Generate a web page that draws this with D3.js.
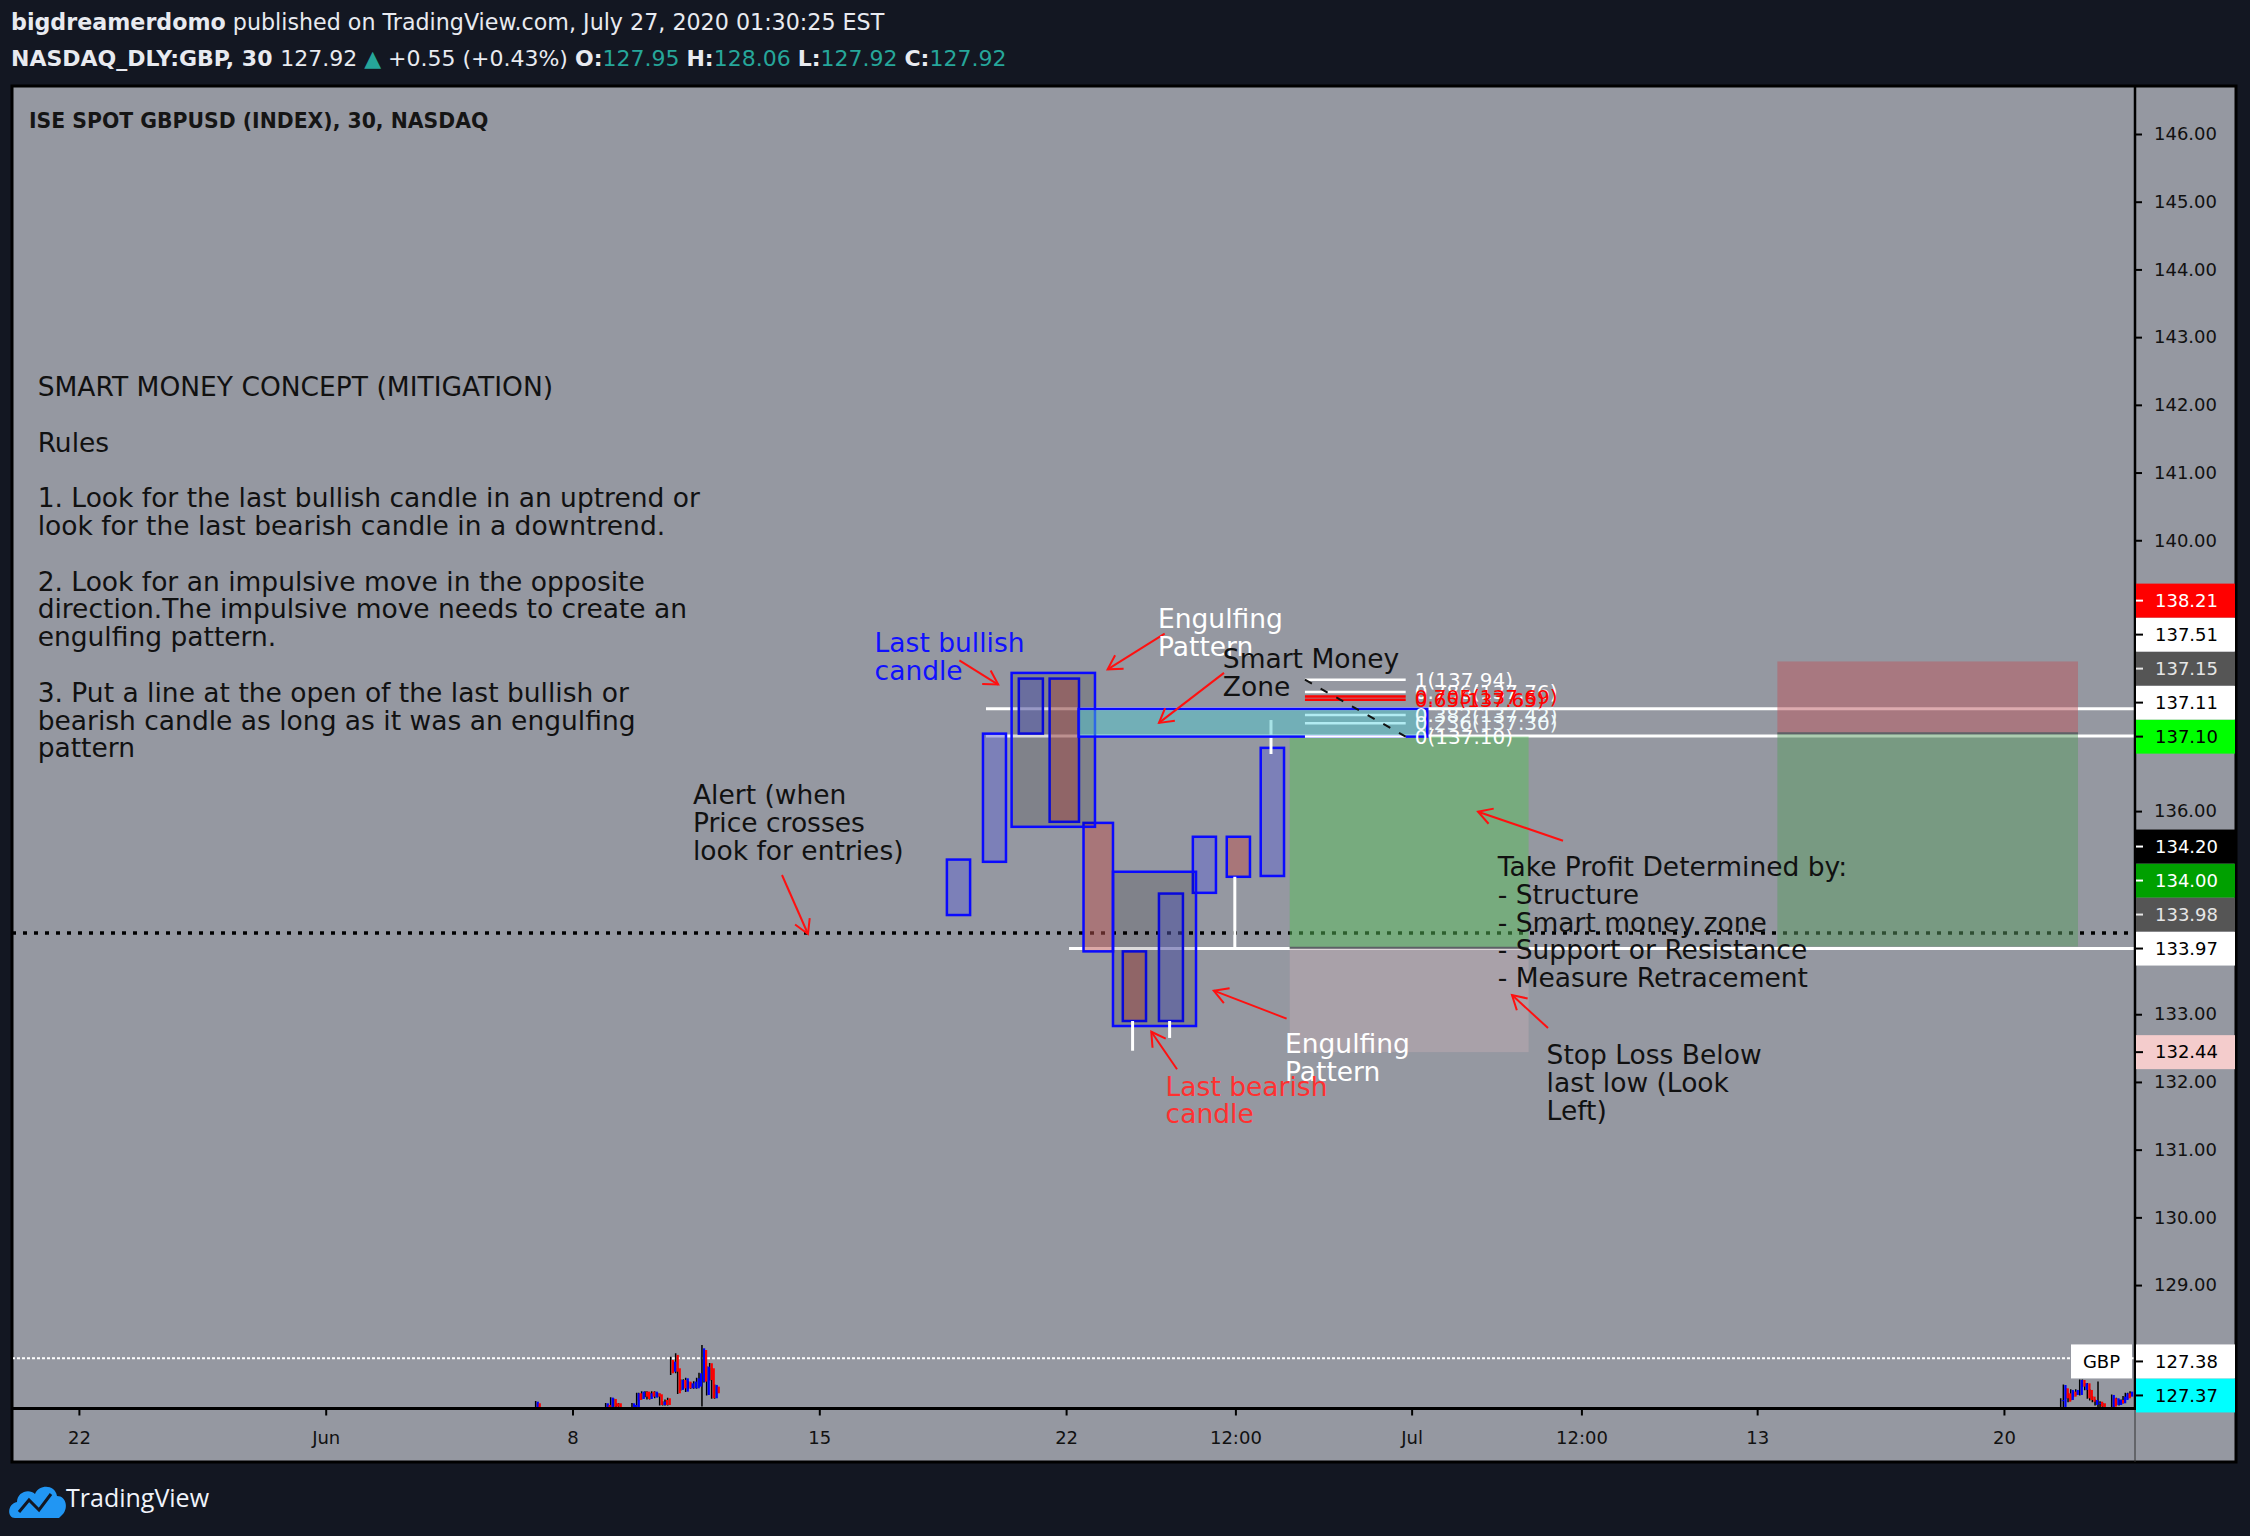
<!DOCTYPE html>
<html>
<head>
<meta charset="utf-8">
<script src="https://cdn.jsdelivr.net/npm/d3@7"></script>
<style>
  body { margin: 0; background: #131722; }
  svg { display: block; }
</style>
</head>
<body>
<script>
// ---------- data ----------
// time axis is in trading days counted from 22 May
const timeTicks = [0, 5, 10, 15, 20, 23.43, 27, 30.44, 34, 39];
const timeTickLabels = ["22", "Jun", "8", "15", "22", "12:00", "Jul", "12:00", "13", "20"];
const priceTicks = d3.range(129, 147);

// hand drawn candles: [start, end, open, close]
const drawnCandles = [
  [17.585, 18.055, 134.465, 135.284],
  [18.316, 18.782, 135.251, 137.144],
  [19.042, 19.530, 137.145, 137.957],
  [19.666, 20.261, 137.957, 135.842],
  [20.353, 20.950, 135.826, 133.928],
  [21.149, 21.619, 133.928, 132.900],
  [21.881, 22.367, 132.900, 134.782],
  [22.568, 23.036, 134.793, 135.621],
  [23.255, 23.725, 135.621, 135.030],
  [23.943, 24.415, 135.042, 136.934]
];
// engulfing boxes: [start, end, top, bottom]
const engulfBoxes = [
  [18.896, 20.585, 138.041, 135.768],
  [20.950, 22.632, 135.104, 132.826]
];
// white wicks: [time, high, low]
const drawnWicks = [
  [21.347, 132.900, 132.461],
  [22.097, 132.900, 132.650],
  [23.418, 135.030, 133.980],
  [24.151, 137.345, 136.843]
];

// real 30 min bars: [time, open, high, low, close]
const juneBars = [
  [9.274, 127.190, 127.288, 127.190, 127.278], [9.314, 127.254, 127.260, 127.190, 127.190],
  [10.692, 127.190, 127.260, 127.190, 127.254], [10.732, 127.229, 127.240, 127.190, 127.190],
  [10.793, 127.190, 127.345, 127.190, 127.338], [10.854, 127.318, 127.325, 127.200, 127.205],
  [10.901, 127.254, 127.260, 127.200, 127.205], [10.955, 127.254, 127.260, 127.190, 127.190],
  [11.225, 127.190, 127.260, 127.190, 127.254], [11.266, 127.190, 127.235, 127.190, 127.229],
  [11.320, 127.190, 127.410, 127.190, 127.402], [11.360, 127.402, 127.410, 127.290, 127.303],
  [11.421, 127.318, 127.430, 127.310, 127.426], [11.489, 127.426, 127.430, 127.345, 127.352],
  [11.529, 127.426, 127.430, 127.310, 127.318], [11.583, 127.318, 127.410, 127.310, 127.402],
  [11.624, 127.426, 127.430, 127.345, 127.352], [11.685, 127.338, 127.430, 127.330, 127.426],
  [11.745, 127.402, 127.410, 127.345, 127.352], [11.786, 127.387, 127.395, 127.220, 127.229],
  [11.847, 127.229, 127.285, 127.220, 127.278], [11.894, 127.303, 127.310, 127.220, 127.229],
  [11.948, 127.328, 127.335, 127.220, 127.229], [12.009, 127.894, 127.943, 127.672, 127.697],
  [12.056, 127.721, 127.880, 127.710, 127.869], [12.110, 127.968, 127.992, 127.697, 127.721],
  [12.151, 127.771, 127.780, 127.390, 127.402], [12.211, 127.451, 127.610, 127.440, 127.598],
  [12.265, 127.598, 127.610, 127.460, 127.475], [12.313, 127.426, 127.630, 127.420, 127.623],
  [12.367, 127.574, 127.580, 127.460, 127.475], [12.414, 127.475, 127.560, 127.470, 127.549],
  [12.475, 127.475, 127.580, 127.470, 127.574], [12.535, 127.475, 127.630, 127.470, 127.623],
  [12.583, 127.500, 127.705, 127.490, 127.697], [12.643, 127.574, 128.115, 127.205, 128.066],
  [12.684, 128.041, 128.050, 127.560, 127.574], [12.738, 127.377, 127.800, 127.370, 127.795],
  [12.799, 127.845, 127.850, 127.590, 127.598], [12.839, 127.771, 127.780, 127.320, 127.328],
  [12.900, 127.328, 127.530, 127.320, 127.525], [12.941, 127.500, 127.510, 127.395, 127.402]
];
const julyBars = [
  [40.170, 127.300, 127.328, 127.180, 127.300], [40.224, 127.180, 127.530, 127.180, 127.524],
  [40.271, 127.475, 127.480, 127.320, 127.328], [40.319, 127.401, 127.410, 127.270, 127.278],
  [40.373, 127.303, 127.460, 127.300, 127.451], [40.427, 127.426, 127.430, 127.345, 127.352],
  [40.474, 127.377, 127.460, 127.370, 127.451], [40.555, 127.377, 127.605, 127.370, 127.598],
  [40.609, 127.598, 127.605, 127.490, 127.500], [40.656, 127.451, 127.555, 127.445, 127.549],
  [40.710, 127.549, 127.555, 127.320, 127.328], [40.758, 127.451, 127.460, 127.295, 127.303],
  [40.812, 127.352, 127.360, 127.270, 127.278], [40.866, 127.229, 127.310, 127.220, 127.303],
  [40.926, 127.250, 127.574, 127.180, 127.260], [40.967, 127.278, 127.285, 127.200, 127.204],
  [41.021, 127.254, 127.260, 127.180, 127.180], [41.203, 127.180, 127.385, 127.180, 127.377],
  [41.244, 127.328, 127.335, 127.200, 127.204], [41.298, 127.229, 127.335, 127.220, 127.328],
  [41.352, 127.229, 127.310, 127.220, 127.303], [41.392, 127.303, 127.310, 127.250, 127.254],
  [41.433, 127.254, 127.360, 127.250, 127.352], [41.480, 127.303, 127.410, 127.300, 127.401],
  [41.527, 127.401, 127.410, 127.320, 127.328], [41.575, 127.352, 127.430, 127.345, 127.426]
];

// horizontal lines: [price, start time]
const levelLines = [[137.51, 18.377], [137.11, 18.377], [133.97, 20.06]];
const alertPrice = 134.20;
const comparePrice = 127.92;
// smart money zone: [start, end, top, bottom]
const smartZone = [20.253, 27.317, 137.51, 137.10];
// fib retracement anchors: [time, price]
const fibStart = [24.839, 137.94];
const fibEnd = [26.880, 137.10];
const fibLevels = [1, 0.786, 0.705, 0.65, 0.382, 0.236, 0];
// position tools: [start, end, entry, target, stop]
const longPosition = [24.53, 29.37, 133.98, 137.10, 132.44];
const shortPosition = [34.41, 40.50, 137.15, 134.00, 138.21];
// price scale labels
const priceLabels = [138.21, 137.51, 137.15, 137.11, 137.10, 134.20, 134.00, 133.98, 133.97, 132.44, 127.38, 127.37];

// text notes anchored at [time, price]
const rulesAnchor = [-0.836, 142.268];
const rulesLines = [
  "SMART MONEY CONCEPT (MITIGATION)", "", "Rules", "",
  "1. Look for the last bullish candle in an uptrend or",
  "look for the last bearish candle in a downtrend.", "",
  "2. Look for an impulsive move in the opposite",
  "direction.The impulsive move needs to create an",
  "engulfing pattern.", "",
  "3. Put a line at the open of the last bullish or",
  "bearish candle as long as it was an engulfing",
  "pattern"
];
const noteTexts = [
  ["Alert (when", "Price crosses", "look for entries)"],
  ["Last bullish", "candle"],
  ["Engulfing", "Pattern"],
  ["Smart Money", "Zone"],
  ["Engulfing", "Pattern"],
  ["Last bearish", "candle"],
  ["Take Profit Determined by:", "- Structure", "- Smart money zone", "- Support or Resistance", "- Measure Retracement"],
  ["Stop Loss Below", "last low (Look", "Left)"]
];
const noteAnchors = [
  [12.44, 136.238], [16.12, 138.49], [21.862, 138.843], [23.175, 138.252],
  [24.435, 132.566], [22.016, 131.934], [28.744, 135.179], [29.735, 132.398]
];
// arrows: [fromTime, fromPrice, toTime, toPrice]
const arrows = [
  [17.838, 138.226, 18.624, 137.869],
  [21.997, 138.622, 20.841, 138.094],
  [23.199, 138.041, 21.882, 137.303],
  [24.467, 132.935, 22.992, 133.348],
  [22.247, 132.187, 21.726, 132.741],
  [14.244, 135.056, 14.771, 134.185],
  [30.067, 135.563, 28.345, 135.991],
  [29.763, 132.796, 29.034, 133.284]
];

// ---------- layout ----------
const width = 2250, height = 1536;
const panel = { left: 12, top: 86, right: 2236, bottom: 1462 };
const axisX = 2135, plotBottom = 1408.5;
const textFont = "'DejaVu Sans', Verdana, sans-serif";
const axisFont = "'DejaVu Sans', Verdana, sans-serif";

const svg = d3.select("body").append("svg")
  .attr("width", width)
  .attr("height", height);

const x = d3.scaleLinear().domain([0, 39]).range([78.9, 78.9 + 39 * 49.36]);
const y = d3.scaleLinear().domain([127, 146]).range([134 + 19 * 67.71, 134]);

// header
const head1 = svg.append("text").attr("x", 11).attr("y", 30)
  .style("font-family", textFont).style("font-size", "22.2px").attr("fill", "#e8eaf0");
head1.append("tspan").attr("font-weight", "bold").text("bigdreamerdomo");
head1.append("tspan").text(" published on TradingView.com, July 27, 2020 01:30:25 EST");

const teal = "#26a69a";
const head2 = svg.append("text").attr("x", 11).attr("y", 66)
  .style("font-family", textFont).style("font-size", "22px").attr("fill", "#e8eaf0");
[
  ["NASDAQ_DLY:GBP, 30 ", "#e8eaf0", "bold"], ["127.92 ", "#e8eaf0", "normal"],
  ["\u25B2", teal, "normal"], [" +0.55 (+0.43%) ", "#e8eaf0", "normal"],
  ["O:", "#e8eaf0", "bold"], ["127.95 ", teal, "normal"],
  ["H:", "#e8eaf0", "bold"], ["128.06 ", teal, "normal"],
  ["L:", "#e8eaf0", "bold"], ["127.92 ", teal, "normal"],
  ["C:", "#e8eaf0", "bold"], ["127.92", teal, "normal"]
].forEach(p => head2.append("tspan").attr("fill", p[1]).attr("font-weight", p[2]).text(p[0]));

// panel
svg.append("rect")
  .attr("x", panel.left).attr("y", panel.top)
  .attr("width", panel.right - panel.left).attr("height", panel.bottom - panel.top)
  .attr("fill", "#9598a1").attr("stroke", "#000").attr("stroke-width", 3);

svg.append("clipPath").attr("id", "plotClip").append("rect")
  .attr("x", panel.left + 1).attr("y", panel.top + 1)
  .attr("width", axisX - panel.left - 1).attr("height", plotBottom - panel.top - 1);

const plot = svg.append("g").attr("clip-path", "url(#plotClip)");

// title
svg.append("text").attr("x", 29).attr("y", 128)
  .style("font-family", textFont).style("font-size", "20.4px").attr("font-weight", "bold")
  .attr("fill", "#151515").text("ISE SPOT GBPUSD (INDEX), 30, NASDAQ");

// horizontal white lines
plot.selectAll("line.level").data(levelLines).join("line")
  .attr("x1", d => x(d[1])).attr("x2", axisX)
  .attr("y1", d => y(d[0])).attr("y2", d => y(d[0]))
  .attr("stroke", "#fff").attr("stroke-width", 3);

// alert line
plot.append("line")
  .attr("x1", panel.left).attr("x2", axisX)
  .attr("y1", y(alertPrice)).attr("y2", y(alertPrice))
  .attr("stroke", "#000").attr("stroke-width", 3.5).attr("stroke-dasharray", "4 7");

// compare symbol last price line
plot.append("line")
  .attr("x1", panel.left).attr("x2", axisX)
  .attr("y1", y(comparePrice)).attr("y2", y(comparePrice))
  .attr("stroke", "#fff").attr("stroke-width", 2).attr("stroke-dasharray", "3 2");

// position tools
function drawPosition(p, profitFill, lossFill) {
  const [t0, t1, entry, target, stop] = p;
  plot.append("rect")
    .attr("x", x(t0)).attr("width", x(t1) - x(t0))
    .attr("y", y(Math.max(entry, target))).attr("height", Math.abs(y(entry) - y(target)))
    .attr("fill", profitFill);
  plot.append("rect")
    .attr("x", x(t0)).attr("width", x(t1) - x(t0))
    .attr("y", y(Math.max(entry, stop))).attr("height", Math.abs(y(entry) - y(stop)))
    .attr("fill", lossFill);
  plot.append("line")
    .attr("x1", x(t0)).attr("x2", x(t1))
    .attr("y1", y(entry)).attr("y2", y(entry))
    .attr("stroke", "#5d6066").attr("stroke-width", 2);
}
drawPosition(longPosition, "rgba(89,190,91,0.5)", "rgba(190,170,178,0.5)");
drawPosition(shortPosition, "rgba(91,156,99,0.5)", "rgba(187,88,95,0.5)");

// drawn candles
plot.selectAll("rect.dc").data(drawnCandles).join("rect")
  .attr("x", d => x(d[0])).attr("width", d => x(d[1]) - x(d[0]))
  .attr("y", d => y(Math.max(d[2], d[3]))).attr("height", d => Math.abs(y(d[2]) - y(d[3])))
  .attr("fill", d => d[3] > d[2] ? "rgba(99,104,207,0.5)" : "rgba(187,84,81,0.5)")
  .attr("stroke", "#0a0aff").attr("stroke-width", 2.5);

// engulfing boxes on top
plot.selectAll("rect.eb").data(engulfBoxes).join("rect")
  .attr("x", d => x(d[0])).attr("width", d => x(d[1]) - x(d[0]))
  .attr("y", d => y(d[2])).attr("height", d => y(d[3]) - y(d[2]))
  .attr("fill", "rgba(0,0,0,0.14)")
  .attr("stroke", "#0a0aff").attr("stroke-width", 2.5);

plot.selectAll("line.wick").data(drawnWicks).join("line")
  .attr("x1", d => x(d[0])).attr("x2", d => x(d[0]))
  .attr("y1", d => y(d[1])).attr("y2", d => y(d[2]))
  .attr("stroke", "#fff").attr("stroke-width", 3);

// smart money zone
plot.append("rect")
  .attr("x", x(smartZone[0])).attr("width", x(smartZone[1]) - x(smartZone[0]))
  .attr("y", y(smartZone[2])).attr("height", y(smartZone[3]) - y(smartZone[2]))
  .attr("fill", "rgba(80,197,205,0.5)")
  .attr("stroke", "#0a0aff").attr("stroke-width", 2.5);

// fib retracement
const fibColor = { 1: "#fff", 0.786: "#fff", 0.705: "#ff0000", 0.65: "#ff0000", 0.382: "#b2ebf2", 0.236: "#b2ebf2", 0: "#fff" };
const fibText = { 1: "#fff", 0.786: "#fff", 0.705: "#ff0000", 0.65: "#ff0000", 0.382: "#f0fbfc", 0.236: "#f0fbfc", 0: "#fff" };
const fibPrice = l => fibEnd[1] + l * (fibStart[1] - fibEnd[1]);
plot.selectAll("line.fib").data(fibLevels).join("line")
  .attr("x1", x(fibStart[0])).attr("x2", x(fibEnd[0]))
  .attr("y1", d => y(fibPrice(d))).attr("y2", d => y(fibPrice(d)))
  .attr("stroke", d => fibColor[d]).attr("stroke-width", 2.5);
plot.append("line")
  .attr("x1", x(fibStart[0])).attr("y1", y(fibStart[1]))
  .attr("x2", x(fibEnd[0])).attr("y2", y(fibEnd[1]))
  .attr("stroke", "#111").attr("stroke-width", 2).attr("stroke-dasharray", "8 10");
plot.selectAll("text.fib").data(fibLevels).join("text")
  .attr("x", x(fibEnd[0]) + 9).attr("y", d => y(fibPrice(d))).attr("dy", "0.35em")
  .style("font-family", axisFont).style("font-size", "20px")
  .attr("fill", d => fibText[d])
  .text(d => d + "(" + fibPrice(d).toFixed(2) + ")");

// real bars
const bars = juneBars.concat(julyBars);
plot.selectAll("line.bar").data(bars).join("line")
  .attr("x1", d => x(d[0]) - 1).attr("x2", d => x(d[0]) - 1)
  .attr("y1", d => y(d[2])).attr("y2", d => y(d[3]))
  .attr("stroke", "#000").attr("stroke-width", 1.5);
plot.selectAll("rect.bar").data(bars).join("rect")
  .attr("x", d => x(d[0])).attr("width", 2.2)
  .attr("y", d => y(Math.max(d[1], d[4]))).attr("height", d => Math.max(1, Math.abs(y(d[1]) - y(d[4]))))
  .attr("fill", d => d[4] >= d[1] ? "#0000ff" : "#ff0000");

// arrows
function arrow(g, d) {
  const x1 = x(d[0]), y1 = y(d[1]), x2 = x(d[2]), y2 = y(d[3]);
  const a = Math.atan2(y2 - y1, x2 - x1), L = 16, w = Math.PI / 6;
  g.append("line").attr("x1", x1).attr("y1", y1).attr("x2", x2).attr("y2", y2);
  g.append("path").attr("fill", "none")
    .attr("d", `M${x2 - L * Math.cos(a - w)},${y2 - L * Math.sin(a - w)}L${x2},${y2}L${x2 - L * Math.cos(a + w)},${y2 - L * Math.sin(a + w)}`);
}
const arrowG = plot.append("g").attr("stroke", "#ff1010").attr("stroke-width", 2);
arrows.forEach(d => arrow(arrowG, d));

// notes
const lineH = 27.8;
const noteSize = "26.5px";
const rules = plot.append("text")
  .style("font-family", textFont).style("font-size", noteSize).attr("fill", "#111");
rulesLines.forEach((s, i) => rules.append("tspan")
  .attr("x", x(rulesAnchor[0])).attr("y", y(rulesAnchor[1]) + i * lineH).attr("dy", "0.35em")
  .text(s || " "));

const noteColors = ["#111", "#1010ff", "#fff", "#111", "#fff", "#ff3030", "#111", "#111"];
noteTexts.forEach((lines, k) => {
  const t = plot.append("text")
    .style("font-family", textFont).style("font-size", noteSize).attr("fill", noteColors[k]);
  lines.forEach((s, i) => t.append("tspan")
    .attr("x", x(noteAnchors[k][0])).attr("y", y(noteAnchors[k][1]) + i * lineH).attr("dy", "0.35em")
    .text(s));
});

// axes lines
svg.append("line").attr("x1", axisX).attr("x2", axisX)
  .attr("y1", panel.top).attr("y2", plotBottom)
  .attr("stroke", "#000").attr("stroke-width", 2.5);
svg.append("line").attr("x1", axisX).attr("x2", axisX)
  .attr("y1", plotBottom).attr("y2", panel.bottom)
  .attr("stroke", "#333").attr("stroke-width", 1);
svg.append("line").attr("x1", panel.left).attr("x2", panel.right)
  .attr("y1", plotBottom).attr("y2", plotBottom)
  .attr("stroke", "#000").attr("stroke-width", 3);

// time axis
const timeAxis = d3.axisBottom(x).tickValues(timeTicks)
  .tickFormat((d, i) => timeTickLabels[i]).tickSize(7).tickPadding(16);
const tg = svg.append("g").attr("transform", `translate(0,${plotBottom})`).call(timeAxis);
tg.select(".domain").remove();
tg.selectAll("line").attr("stroke", "#000").attr("stroke-width", 2);
tg.selectAll("text").style("font-family", axisFont).style("font-size", "18px").attr("fill", "#111");

// price labels stacked upward when they collide
const labelH = 34;
const placed = priceLabels.map((v, i) => ({ v, i, yy: y(v) })).sort((a, b) => b.yy - a.yy);
let prevY = Infinity;
placed.forEach(d => { d.ly = Math.min(d.yy, prevY - labelH); prevY = d.ly; });

// price axis ticks hidden under labels
const shownTicks = priceTicks.filter(v => placed.every(d => Math.abs(d.ly - y(v)) > 25));
const priceAxis = d3.axisRight(y).tickValues(shownTicks).tickFormat(d3.format(".2f"))
  .tickSize(7).tickPadding(12);
const pg = svg.append("g").attr("transform", `translate(${axisX},0)`).call(priceAxis);
pg.select(".domain").remove();
pg.selectAll("line").attr("stroke", "#000").attr("stroke-width", 2);
pg.selectAll("text").style("font-family", axisFont).style("font-size", "18px").attr("fill", "#111");

const labelBg = ["#ff0000", "#ffffff", "#555555", "#ffffff", "#00ff00", "#000000", "#00a000", "#555555", "#ffffff", "#f4cccc", "#ffffff", "#00ffff"];
const labelFg = ["#ffffff", "#000000", "#e6e6e6", "#000000", "#000000", "#ffffff", "#ffffff", "#e6e6e6", "#000000", "#000000", "#000000", "#000000"];

const lg = svg.append("g");
placed.forEach(d => {
  lg.append("rect").attr("x", axisX + 1).attr("y", d.ly - labelH / 2)
    .attr("width", panel.right - axisX - 2).attr("height", labelH).attr("fill", labelBg[d.i]);
  lg.append("line").attr("x1", axisX + 1).attr("x2", axisX + 8)
    .attr("y1", d.ly).attr("y2", d.ly).attr("stroke", labelFg[d.i]).attr("stroke-width", 2);
  lg.append("text").attr("x", axisX + 20).attr("y", d.ly).attr("dy", "0.35em")
    .style("font-family", axisFont).style("font-size", "18px").attr("fill", labelFg[d.i])
    .text(d.v.toFixed(2));
});

// symbol tag for the compare series
const gbp = placed.find(d => d.v === 127.38);
svg.append("rect").attr("x", 2071).attr("y", gbp.ly - labelH / 2)
  .attr("width", 61).attr("height", labelH).attr("fill", "#fff");
svg.append("text").attr("x", 2101.5).attr("y", gbp.ly).attr("dy", "0.35em")
  .attr("text-anchor", "middle")
  .style("font-family", axisFont).style("font-size", "18px").attr("fill", "#000").text("GBP");

// TradingView logo
const logo = svg.append("g").attr("transform", "translate(11,1478)");
logo.append("path")
  .attr("d", "M4,40 C-4,40 -4,26 6,24 C6,14 18,10 24,16 C28,6 44,6 46,18 C56,18 58,32 50,38 L48,40 Z")
  .attr("fill", "#2196f3");
logo.append("path").attr("d", "M8,34 L18,22 L28,32 L40,16")
  .attr("fill", "none").attr("stroke", "#131722").attr("stroke-width", 3);
svg.append("text").attr("x", 66).attr("y", 1507)
  .style("font-family", "'Open Sans', sans-serif").style("font-size", "25px").attr("fill", "#f0f3fa")
  .text("TradingView");
</script>
</body>
</html>
